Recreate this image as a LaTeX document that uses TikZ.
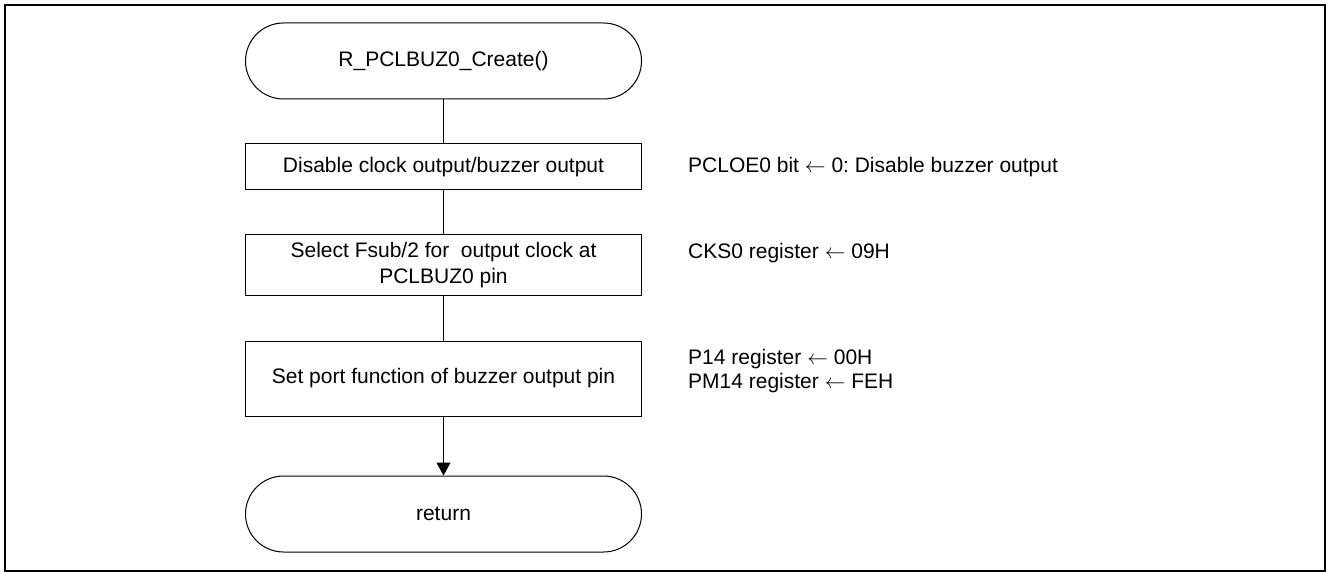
\documentclass[tikz,border=0pt]{standalone}
\usepackage{fontspec}
\setmainfont{Liberation Sans}
\usetikzlibrary{arrows.meta}
\frenchspacing
\begin{document}
\begin{tikzpicture}[x=1pt,y=-1pt, font=\fontsize{21}{26.5}\selectfont,
 term/.style={draw, line width=1pt, rounded corners=38pt, minimum width=396pt, minimum height=76pt, inner sep=0pt},
 proc/.style={draw, line width=1pt, minimum width=396pt, inner sep=0pt, align=center},
 lab/.style={anchor=west, align=left, inner sep=0pt},
 flow/.style={line width=1pt},
 frame/.style={line width=2pt}]
\useasboundingbox (0,0) rectangle (1328,572);
\draw[frame] (5,5) rectangle (1324.5,571);
\node[term] (start) at (443.5,61) {R\_PCLBUZ0\_Create()};
\node[proc, minimum height=46pt] (b1) at (443.5,167) {Disable clock output/buzzer output};
\node[proc, minimum height=60pt] (b2) at (443.5,265) {Select Fsub/2 for\ \ output clock at\\PCLBUZ0 pin};
\node[proc, minimum height=75pt] (b3) at (443.5,378.5) {Set port function of buzzer output pin};
\node[term] (ret) at (443.5,514) {return};
\node[lab] (l1) at (688,167) {PCLOE0 bit $\leftarrow$ 0: Disable buzzer output};
\node[lab] (l2) at (688,253) {CKS0 register $\leftarrow$ 09H};
\node[lab, font=\fontsize{21}{24}\selectfont] (l3) at (688,371.5) {P14 register $\leftarrow$ 00H\\PM14 register $\leftarrow$ FEH};
\draw[flow] (start) -- (b1);
\draw[flow] (b1) -- (b2);
\draw[flow] (b2) -- (b3);
\draw[flow, -{Triangle[length=13pt,width=14pt]}] (b3) -- (ret);
\end{tikzpicture}
\end{document}
